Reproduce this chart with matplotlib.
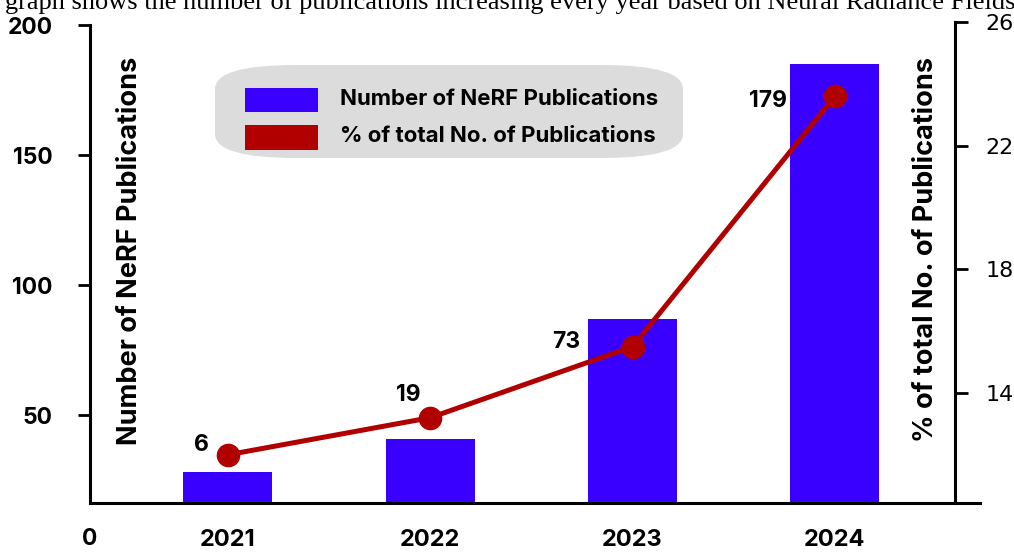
import numpy as np
import matplotlib
matplotlib.use('Agg')
import matplotlib.pyplot as plt
from matplotlib.patches import FancyBboxPatch, Rectangle

# Data
years = ['2021', '2022', '2023', '2024']
pub_counts = [6, 19, 73, 179]          # labels printed next to the line points
bar_heights = [28.3, 41.0, 87.0, 185.0]  # bar tops as drawn on the left axis
pct_total = [12.0, 13.2, 15.5, 23.6]     # % of total publications (right axis)
left_ticks = [50, 100, 150, 200]
right_ticks = [14, 18, 22, 26]

bar_color = '#3a00ff'
line_color = '#b00000'
font = 'Inter'

fig = plt.figure(figsize=(10.14, 5.52), dpi=100)
ax = fig.add_axes([90 / 1014, 49 / 552, 890 / 1014, 481 / 552])

x = np.arange(len(years))
ax.bar(x, bar_heights, width=0.44, color=bar_color, zorder=2)
ax.set_xlim(-0.682, 3.717)
ax.set_ylim(16.2, 201.2)
ax.set_yticks(left_ticks)
ax.set_xticks(x)
ax.set_xticklabels(years)
ax.tick_params(axis='x', length=0, pad=19, labelsize=17)
ax.tick_params(axis='y', length=9, width=2, pad=18, labelsize=16.5)
for lab in ax.get_xticklabels() + ax.get_yticklabels():
    lab.set_fontweight('bold')
    lab.set_family(font)
ax.spines['top'].set_visible(False)
ax.spines['right'].set_visible(False)
ax.spines['left'].set_linewidth(2.2)
ax.spines['bottom'].set_linewidth(2.2)
ax.spines['left'].set_bounds(16.2, 200)
ax.text(-0.682, 2.3, '0', ha='center', va='center', fontsize=16.5, fontweight='bold',
        family=font, clip_on=False)

ax.text(-0.485, 113, 'Number of NeRF Publications', rotation=90, ha='center', va='center',
        fontsize=19.5, fontweight='bold', family=font)

ax2 = ax.twinx()
ax2.set_ylim(10.44, 26)
ax2.plot(x, pct_total, color=line_color, lw=3.6, marker='o', markersize=16, zorder=3)
ax2.set_yticks(right_ticks)
ax2.tick_params(axis='y', length=9, width=2, pad=13, labelsize=16)
for lab in ax2.get_yticklabels():
    lab.set_fontweight('bold')
    lab.set_family(font)
for s in ['top', 'left', 'bottom']:
    ax2.spines[s].set_visible(False)
ax2.spines['right'].set_position(('data', 3.594))
ax2.spines['right'].set_linewidth(2.2)

ax2.text(3.45, 18.65, '% of total No. of Publications', rotation=90, ha='center', va='center',
         fontsize=19.5, fontweight='bold', family=font)

# value labels
offsets = [(-0.13, 0.32), (-0.11, 0.74), (-0.33, 0.16), (-0.33, -0.16)]
for xi, yi, c, (dx, dy) in zip(x, pct_total, pub_counts, offsets):
    ax2.text(xi + dx, yi + dy, str(c), ha='center', va='center', fontsize=16.5,
             fontweight='bold', family=font)

# legend box
box = FancyBboxPatch((215 / 1014, 1 - 158 / 552), 468 / 1014, 93 / 552,
                     boxstyle='round,pad=0,rounding_size=0.08', transform=fig.transFigure,
                     facecolor='#dcdcdc', edgecolor='none', mutation_aspect=552 / 1014)
fig.patches.append(box)
fig.patches.append(Rectangle((245 / 1014, 1 - 112 / 552), 73 / 1014, 24 / 552,
                             transform=fig.transFigure, facecolor=bar_color))
fig.patches.append(Rectangle((245 / 1014, 1 - 150 / 552), 73 / 1014, 25 / 552,
                             transform=fig.transFigure, facecolor=line_color))
fig.text(340 / 1014, 1 - 99 / 552, 'Number of NeRF Publications', va='center',
         fontsize=16, fontweight='bold', family=font)
fig.text(340 / 1014, 1 - 136 / 552, '% of total No. of Publications', va='center',
         fontsize=16, fontweight='bold', family=font)

fig.text(5 / 1014, 1 - 9 / 552,
         'graph shows the number of publications increasing every year based on Neural Radiance Fields.',
         va='baseline', ha='left', fontsize=19, family='Liberation Serif')

fig.savefig('out.png', dpi=100)
